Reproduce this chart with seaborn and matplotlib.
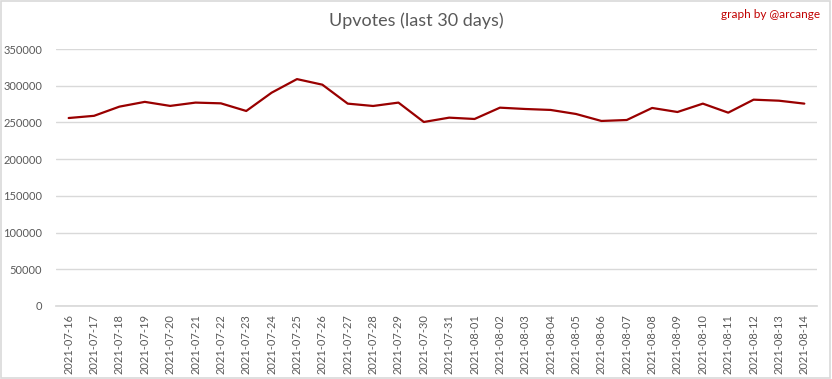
import matplotlib
matplotlib.use("Agg")
import matplotlib.pyplot as plt
import seaborn as sns
import pandas as pd
from matplotlib.patches import Rectangle

dates = ["2021-07-16", "2021-07-17", "2021-07-18", "2021-07-19", "2021-07-20",
         "2021-07-21", "2021-07-22", "2021-07-23", "2021-07-24", "2021-07-25",
         "2021-07-26", "2021-07-27", "2021-07-28", "2021-07-29", "2021-07-30",
         "2021-07-31", "2021-08-01", "2021-08-02", "2021-08-03", "2021-08-04",
         "2021-08-05", "2021-08-06", "2021-08-07", "2021-08-08", "2021-08-09",
         "2021-08-10", "2021-08-11", "2021-08-12", "2021-08-13", "2021-08-14"]
upvotes = [256000, 259000, 271500, 278000, 272500, 277000, 276000, 265600, 290500, 309000,
           301400, 275600, 272400, 277000, 250600, 256500, 254700, 270100, 268300, 267000,
           261500, 252000, 253300, 269700, 264200, 275600, 263300, 281000, 279600, 275600]
y_ticks = [0, 50000, 100000, 150000, 200000, 250000, 300000, 350000]

sns.set_theme(style="white")
plt.rcParams['font.family'] = ['Lato', 'DejaVu Sans']

df = pd.DataFrame({"pos": range(len(dates)), "date": dates, "upvotes": upvotes})

fig = plt.figure(figsize=(8.32, 3.79), dpi=100)
ax = fig.add_axes([56/832, 1 - 306/379, (817-56)/832, (306-49)/379])

sns.lineplot(data=df, x="pos", y="upvotes", ax=ax, color="#990000", linewidth=1.6)

ax.set_xlim(-0.5, len(dates) - 0.5)
ax.set_ylim(0, 350000)
ax.set_yticks(y_ticks)
ax.set_yticklabels([str(v) for v in y_ticks], fontsize=8, color="#595959")
ax.set_xticks(range(len(dates)))
ax.set_xticklabels(dates, rotation=90, fontsize=8, color="#595959")
ax.tick_params(axis="both", length=0, pad=6)
ax.tick_params(axis="y", pad=10)
ax.grid(axis="y", color="#d9d9d9", linewidth=1)
ax.set_axisbelow(True)
for s in ["top", "right", "left"]:
    ax.spines[s].set_visible(False)
ax.spines["bottom"].set_color("#d9d9d9")
ax.set_xlabel("")
ax.set_ylabel("")

fig.text(0.5, 1 - 21/379, "Upvotes (last 30 days)", ha="center", va="center",
         fontsize=13, color="#595959")
fig.text(820/832, 1 - 15/379, "graph by @arcange", ha="right", va="center",
         fontsize=8.5, color="#c00000")

fig.patches.append(Rectangle((0.001, 0.002), 0.997, 0.995, transform=fig.transFigure,
                             fill=False, edgecolor="#d9d9d9", linewidth=1.2))

fig.savefig("out.png", dpi=100, facecolor="white")
